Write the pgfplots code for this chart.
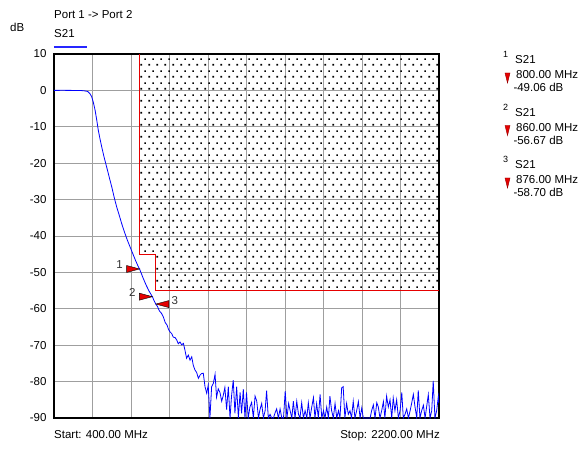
\documentclass[border=0pt]{standalone}
\usepackage{pgfplots}
\pgfplotsset{compat=1.18}
\usepackage{fontspec}
\setmainfont{Liberation Sans}
\usetikzlibrary{patterns}

% staggered dot grid for the limit mask
\pgfdeclarepatternformonly{maskdots}{\pgfqpoint{0pt}{0pt}}{\pgfqpoint{8.3pt}{12pt}}{\pgfqpoint{8.3pt}{12pt}}{%
  \pgfpathrectangle{\pgfqpoint{0.5pt}{0.5pt}}{\pgfqpoint{1.7pt}{1.7pt}}%
  \pgfpathrectangle{\pgfqpoint{4.65pt}{6.5pt}}{\pgfqpoint{1.7pt}{1.7pt}}%
  \pgfusepath{fill}}

% marker triangles, tip on the trace
\pgfdeclareplotmark{mkright}{%
  \pgfpathmoveto{\pgfpointorigin}
  \pgfpathlineto{\pgfqpoint{-13pt}{3.5pt}}
  \pgfpathlineto{\pgfqpoint{-13pt}{-3.5pt}}
  \pgfpathclose\pgfusepathqfillstroke}
\pgfdeclareplotmark{mkleft}{%
  \pgfpathmoveto{\pgfpointorigin}
  \pgfpathlineto{\pgfqpoint{13pt}{3.5pt}}
  \pgfpathlineto{\pgfqpoint{13pt}{-3.5pt}}
  \pgfpathclose\pgfusepathqfillstroke}

\definecolor{mred}{RGB}{230,0,0}

\begin{document}
\fontsize{11.5pt}{13.5pt}\selectfont
\begin{tikzpicture}
\begin{axis}[
    scale only axis,
    width=385pt,
    height=364pt,
    xmin=400, xmax=2200,
    ymin=-90, ymax=10,
    xtick={400,580,...,2200},
    xticklabels={},
    ytick={-90,-80,...,10},
    yticklabels={-90,-80,-70,-60,-50,-40,-30,-20,-10,0,10},
    yticklabel style={xshift=-3.5pt},
    tick style={draw=none},
    grid=major,
    major grid style={gray!75, line width=0.9pt},
    axis line style={black, line width=1.1pt},
]

% limit mask
\addplot[draw=none, pattern=maskdots] coordinates {
    (800,10) (800,-45) (875,-45) (875,-55) (2200,-55) (2200,10)
} -- cycle;
\addplot[mred, line width=1pt] coordinates {
    (800,10) (800,-45) (875,-45) (875,-55) (2200,-55)
};

% S21 trace
\addplot[blue, line width=0.8pt] coordinates {
    (400,0) (440,0.02) (480,0) (520,-0.02) (540,-0.1) (558,-0.3) (568,-0.9)
    (576,-1.7) (584,-3.3) (592,-5.4) (600,-8.2) (607,-10.9) (615,-13.3)
    (623,-15.5) (634,-18.3) (646,-21) (658,-23.8) (670,-26.5) (681,-29.3)
    (693,-32) (705,-34.3) (716,-36.5) (730,-39) (742,-41) (755,-42.9)
    (768,-44.8) (781,-46.7) (794,-48.4) (800,-49.06) (817,-51.6) (830,-53.4)
    (845,-55.2) (860,-56.67) (868,-57.8) (876,-58.7) (884,-59.4) (893,-60.6)
    (902,-61.2) (911,-62.2) (920,-63.8) (928,-64.4) (935,-65.6) (942,-66.3)
    (950,-66.8) (958,-67.8) (966,-67.9) (974,-68.6) (981,-69.6) (989,-69.1)
    (997,-69.9) (1005,-69.5) (1012,-71.3) (1020,-73.6) (1028,-72.7)
    (1036,-74.1) (1044,-73.2) (1051,-75.5) (1059,-76.8) (1067,-77.5)
    (1075,-79.1) (1083,-78.2) (1090,-77.8) (1098,-77.7) (1106,-81.4)
    (1114,-83.2) (1121,-81) (1129,-90) (1137,-81.4) (1145,-80.5) (1153,-78)
    (1160,-84.3) (1168,-82) (1176,-83) (1184,-85.4) (1191,-83.9) (1199,-81.6)
    (1207,-87.7) (1215,-81.4) (1223,-90) (1230,-84) (1238,-79.6) (1246,-88.7)
    (1254,-81.4) (1262,-90) (1270,-83) (1277,-88.7) (1285,-82.1) (1293,-90)
    (1300,-83) (1308,-90) (1316,-87) (1324,-85.7) (1332,-90) (1340,-84)
    (1348,-85.4) (1356,-90) (1363,-87.7) (1371,-86) (1379,-90) (1387,-88)
    (1394,-82.5) (1402,-90) (1410,-89) (1418,-90) (1426,-90) (1434,-88.5)
    (1441,-87.5) (1449,-90) (1457,-87.5) (1465,-90) (1473,-90) (1481,-82.6)
    (1489,-90) (1497,-86) (1504,-88) (1512,-90) (1519,-85.4) (1527,-90)
    (1535,-85.4) (1543,-89) (1550,-90) (1558,-85.8) (1566,-90) (1574,-88)
    (1582,-90) (1589,-85.8) (1597,-90) (1605,-87) (1613,-84.4) (1620,-90)
    (1628,-86) (1636,-90) (1644,-83.5) (1652,-90) (1660,-88) (1667,-90)
    (1675,-87) (1683,-90) (1690,-84) (1698,-88) (1706,-90) (1714,-86)
    (1722,-90) (1730,-88) (1737,-90) (1745,-81.7) (1752,-81.4) (1760,-90)
    (1768,-86) (1776,-89) (1784,-88) (1791,-90) (1799,-85.4) (1807,-90)
    (1815,-88) (1823,-85.5) (1831,-90) (1839,-87.2) (1846,-90) (1854,-90)
    (1862,-90) (1870,-90) (1878,-90) (1885,-88) (1893,-86.4) (1901,-90)
    (1909,-85.8) (1916,-86.9) (1924,-90) (1932,-88) (1940,-85.5) (1947,-90)
    (1955,-84) (1963,-87) (1971,-85) (1979,-90) (1986,-84.5) (1994,-88)
    (2002,-85) (2010,-90) (2018,-88) (2026,-83) (2033,-90) (2041,-89)
    (2049,-87.5) (2057,-90) (2065,-88) (2072,-86) (2080,-83.5) (2088,-87)
    (2096,-90) (2103,-82.4) (2111,-90) (2119,-88) (2127,-86.5) (2135,-90)
    (2142,-87) (2150,-83.6) (2158,-90) (2166,-88) (2173,-79.8) (2181,-90)
    (2189,-88) (2197,-84) (2200,-86)
};

% markers
\addplot[only marks, mark=mkright, fill=mred, draw=black, line width=0.4pt]
    coordinates {(800,-49.06) (860,-56.67)};
\addplot[only marks, mark=mkleft, fill=mred, draw=black, line width=0.4pt]
    coordinates {(876,-58.70)};
\node[xshift=-20pt, yshift=4.5pt, text=black!80] at (axis cs:800,-49.06) {1};
\node[xshift=-20pt, yshift=4pt, text=black!80] at (axis cs:860,-56.67) {2};
\node[xshift=19pt, yshift=4pt, text=black!80] at (axis cs:876,-58.70) {3};
\end{axis}

% header
\node[anchor=base west, inner sep=0pt] at (0pt,399pt) {Port 1 -> Port 2};
\node[anchor=base west, inner sep=0pt] at (-44pt,386pt) {dB};
\node[anchor=base west, inner sep=0pt] at (0pt,380.7pt) {S21};
\draw[blue!85!white, line width=1.7pt] (0pt,371.3pt) -- (33pt,371.3pt);

% footer
\node[anchor=base west, inner sep=0pt] at (0pt,-21pt) {Start: 400.00 MHz};
\node[anchor=base east, inner sep=0pt] at (386pt,-21pt) {Stop: 2200.00 MHz};

% marker readout
\foreach \k/\f/\v in {0/800.00/-49.06, 1/860.00/-56.67, 2/876.00/-58.70} {
  \pgfmathsetmacro{\yb}{354-52.5*\k}
  \pgfmathtruncatemacro{\n}{\k+1}
  \node[anchor=base west, inner sep=0pt, font=\fontsize{9pt}{10pt}\selectfont] at (449pt,\yb pt+6pt) {\n};
  \node[anchor=base west, inner sep=0pt] at (461pt,\yb pt) {S21};
  \node[anchor=base west, inner sep=0pt] at (462pt,\yb pt-15pt) {\f\ MHz};
  \node[anchor=base west, inner sep=0pt] at (459.3pt,\yb pt-28pt) {\v\ dB};
  \filldraw[fill=mred, draw=red!60!black, line width=0.4pt]
    (451pt,\yb pt-9pt) -- (456pt,\yb pt-9pt) -- (453.5pt,\yb pt-19pt) -- cycle;
}

\pgfresetboundingbox
\useasboundingbox (-54pt,-32pt) rectangle (530pt,418pt);
\end{tikzpicture}
\end{document}
